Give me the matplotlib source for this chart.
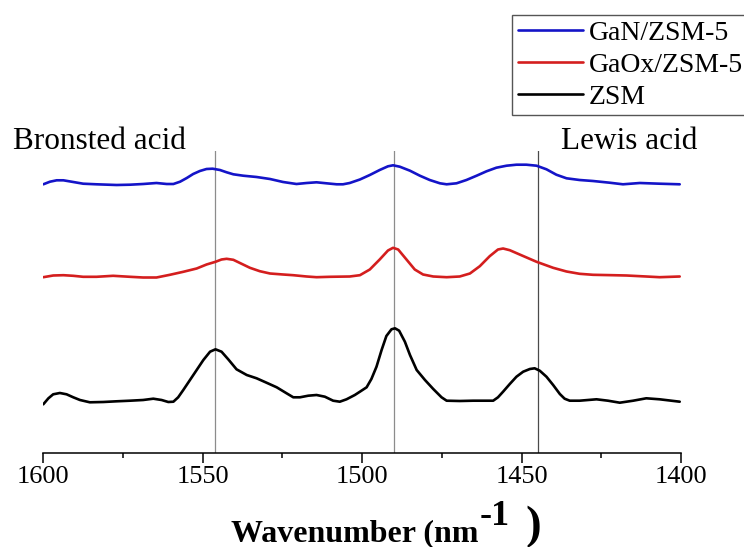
import numpy as np
import matplotlib
matplotlib.use('Agg')
import matplotlib.pyplot as plt

plt.rcParams['font.family'] = ['Liberation Serif', 'DejaVu Serif']

# wavenumber / band height (a.u., baseline-corrected) for each sample
zsm_wn = [1600.0, 1598.4, 1596.9, 1594.8, 1592.7, 1590.6, 1588.5, 1585.4, 1581.2, 1577.0,
          1572.8, 1568.7, 1565.5, 1562.9, 1560.8, 1559.2, 1557.7, 1556.1, 1554.0, 1551.9,
          1549.8, 1547.7, 1546.0, 1544.1, 1542.0, 1539.4, 1536.2, 1533.1, 1530.0, 1526.8,
          1523.7, 1521.6, 1519.5, 1516.9, 1514.3, 1511.7, 1509.1, 1507.0, 1504.9, 1502.3,
          1500.7, 1498.6, 1497.1, 1495.5, 1493.9, 1492.4, 1490.8, 1489.7, 1488.4, 1486.6,
          1485.0, 1482.9, 1480.3, 1477.7, 1475.1, 1473.5, 1469.4, 1465.2, 1458.9, 1457.4,
          1455.8, 1453.7, 1451.6, 1449.5, 1447.4, 1445.9, 1444.3, 1442.2, 1440.1, 1438.0,
          1436.5, 1434.9, 1431.8, 1426.5, 1422.9, 1419.2, 1415.0, 1410.9, 1406.7, 1400.4]
zsm_h = [-0.028, 0.032, 0.072, 0.085, 0.072, 0.042, 0.015, -0.008, -0.005, 0.002,
         0.008, 0.015, 0.028, 0.015, -0.005, -0.002, 0.042, 0.115, 0.215, 0.315,
         0.415, 0.498, 0.522, 0.498, 0.422, 0.322, 0.265, 0.232, 0.188, 0.142,
         0.082, 0.042, 0.042, 0.058, 0.065, 0.048, 0.008, -0.002, 0.022, 0.065,
         0.098, 0.142, 0.225, 0.348, 0.515, 0.655, 0.722, 0.732, 0.708, 0.598,
         0.465, 0.315, 0.215, 0.125, 0.042, 0.008, 0.005, 0.008, 0.008, 0.042,
         0.098, 0.175, 0.248, 0.298, 0.325, 0.332, 0.308, 0.248, 0.165, 0.075,
         0.028, 0.008, 0.008, 0.022, 0.008, -0.012, 0.008, 0.032, 0.022, -0.002]

gaox_wn = [1600.0, 1596.9, 1593.7, 1590.6, 1587.5, 1583.3, 1578.1, 1572.8, 1568.7, 1564.5,
           1560.3, 1556.1, 1551.9, 1548.8, 1546.0, 1544.1, 1542.5, 1540.4, 1537.8, 1535.2,
           1532.1, 1528.9, 1524.8, 1521.6, 1517.4, 1514.3, 1510.1, 1503.9, 1500.7, 1497.6,
           1494.5, 1491.9, 1490.3, 1488.7, 1486.1, 1483.5, 1480.9, 1477.7, 1473.5, 1469.4,
           1466.2, 1463.1, 1460.0, 1457.4, 1455.8, 1453.7, 1450.6, 1445.3, 1440.1, 1435.9,
           1431.8, 1427.6, 1421.3, 1417.1, 1410.9, 1406.7, 1400.4]
gaox_h = [-0.002, 0.015, 0.018, 0.012, 0.002, 0.002, 0.012, 0.002, -0.005, -0.005,
          0.022, 0.052, 0.085, 0.125, 0.152, 0.175, 0.182, 0.172, 0.132, 0.092,
          0.058, 0.035, 0.025, 0.018, 0.005, -0.002, 0.002, 0.005, 0.018, 0.075,
          0.175, 0.265, 0.292, 0.275, 0.175, 0.075, 0.025, 0.005, -0.002, 0.005,
          0.035, 0.108, 0.208, 0.275, 0.285, 0.268, 0.225, 0.152, 0.092, 0.055,
          0.032, 0.022, 0.018, 0.015, 0.005, -0.002, 0.005]

gan_wn = [1600.0, 1597.9, 1595.8, 1593.7, 1590.6, 1587.5, 1583.3, 1577.0, 1572.8, 1568.7,
          1564.5, 1561.3, 1559.2, 1557.1, 1555.0, 1553.0, 1550.9, 1548.8, 1546.9, 1544.6,
          1542.5, 1540.4, 1537.3, 1533.1, 1528.9, 1524.8, 1520.6, 1517.4, 1514.3, 1511.2,
          1508.0, 1506.0, 1503.9, 1500.7, 1497.6, 1494.5, 1491.9, 1490.3, 1488.2, 1485.0,
          1481.9, 1478.8, 1475.6, 1473.5, 1470.4, 1467.3, 1464.1, 1461.0, 1457.9, 1454.7,
          1451.6, 1448.5, 1445.3, 1442.2, 1439.1, 1435.9, 1431.8, 1427.6, 1422.4, 1418.2,
          1412.9, 1406.7, 1400.4]
gan_h = [-0.003, 0.023, 0.037, 0.037, 0.02, 0.003, -0.003, -0.01, -0.007, 0.0,
         0.01, 0.0, 0.0, 0.023, 0.06, 0.10, 0.13, 0.15, 0.153, 0.14,
         0.117, 0.097, 0.083, 0.07, 0.05, 0.02, 0.0, 0.01, 0.017, 0.007,
         -0.003, -0.003, 0.01, 0.045, 0.09, 0.14, 0.177, 0.187, 0.173, 0.133,
         0.083, 0.04, 0.007, -0.003, 0.007, 0.04, 0.083, 0.127, 0.163, 0.183,
         0.193, 0.193, 0.183, 0.147, 0.093, 0.057, 0.04, 0.03, 0.013, -0.003,
         0.01, 0.003, -0.003]

labels = ['GaN/ZSM-5', 'GaOx/ZSM-5', 'ZSM']
offsets = [2.687, 1.757, 0.512]
colors = ['#1414c8', '#d41e1e', 'black']

# band positions marked with vertical lines
band_wn = [1546, 1490, 1445]
band_colors = ['#8c8c8c', '#8c8c8c', '#4a4a4a']

W, H = 744, 547
fig = plt.figure(figsize=(W / 100, H / 100), dpi=100)
ax = fig.add_axes([43.3 / W, 1 - 452.7 / H, 637.7 / W, (452.7 - 151) / H])

series = [(gan_wn, gan_h), (gaox_wn, gaox_h), (zsm_wn, zsm_h)]
for (wn, h), off, col, lab in zip(series, offsets, colors, labels):
    ax.plot(wn, np.asarray(h) + off, color=col, lw=1.9, label=lab, zorder=3,
            solid_joinstyle='round', solid_capstyle='round')

for b, c in zip(band_wn, band_colors):
    ax.axvline(b, color=c, lw=0.9, zorder=1)

ax.set_xlim(1600, 1400)
ax.set_ylim(0, 3.017)
ax.set_xticks([1600, 1550, 1500, 1450, 1400])
ax.set_xticks([1575, 1525, 1475, 1425], minor=True)
ax.set_yticks([])
for s in ['top', 'left', 'right']:
    ax.spines[s].set_visible(False)
ax.spines['bottom'].set_linewidth(1.1)
ax.tick_params(axis='x', which='major', length=7, width=1.1, labelsize=19, pad=2.6)
ax.tick_params(axis='x', which='minor', length=3.4, width=1.1)

# axis title built from pieces so the superscript keeps a plain hyphen and the
# closing bracket spans it; each piece starts where the previous one ends
renderer = fig.canvas.get_renderer()
pieces = [('Wavenumber (nm', 23, 541, 0), ('-1', 26, 525, 1), (')', 34, 538, 16)]
x_px = 231
for txt, size, y, gap in pieces:
    x_px += gap
    t = fig.text(x_px / W, 1 - y / H, txt, fontsize=size, fontweight='bold', va='baseline')
    x_px = t.get_window_extent(renderer).x1

fig.text(12.7 / W, 1 - 149 / H, 'Bronsted acid', fontsize=22.5, va='baseline')
fig.text(561 / W, 1 - 149 / H, 'Lewis acid', fontsize=22.5, va='baseline')

leg = ax.legend(loc='upper left', bbox_to_anchor=(512.3 / W, 1 - 15 / H),
                bbox_transform=fig.transFigure, borderaxespad=0, fontsize=20,
                fancybox=False, framealpha=1, edgecolor='#555555', borderpad=0.2,
                handlelength=2.35, handletextpad=0.2, labelspacing=0.23)
leg.get_frame().set_linewidth(1.0)

fig.savefig('out.png', dpi=100)
